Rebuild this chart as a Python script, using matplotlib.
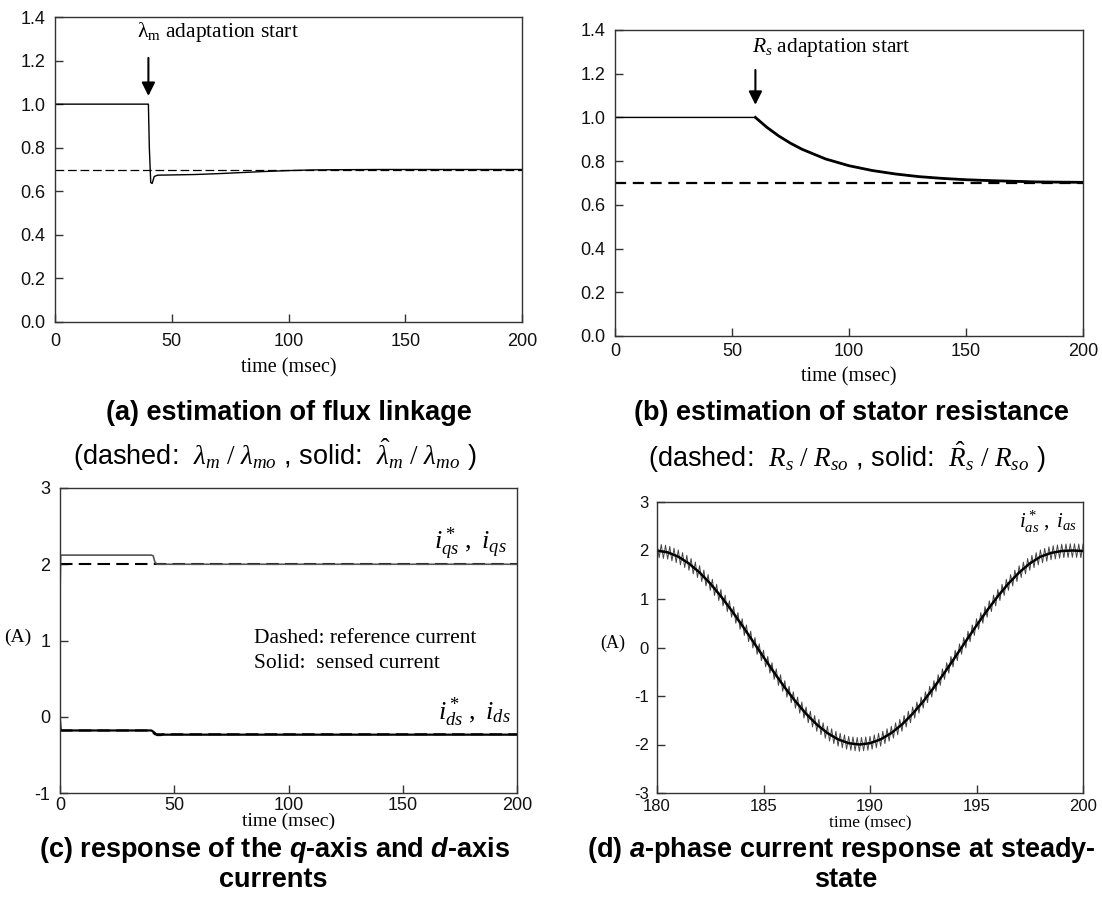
import numpy as np
import matplotlib
matplotlib.use('Agg')
import matplotlib.pyplot as plt

plt.rcParams['font.family'] = ['Liberation Sans', 'DejaVu Sans']
plt.rcParams['axes.unicode_minus'] = False
plt.rcParams['mathtext.fontset'] = 'custom'
plt.rcParams['mathtext.rm'] = 'Liberation Serif'
plt.rcParams['mathtext.it'] = 'Liberation Serif:italic'
plt.rcParams['mathtext.bf'] = 'Liberation Serif:bold'
try:
    plt.rcParams['mathtext.bfit'] = 'Liberation Sans:italic:bold'
except KeyError:
    pass

# ---------------- data ----------------
# (a) flux linkage estimation
a_time = [0, 40, 40.4, 41.0, 41.6, 42.5, 44, 50, 60, 70, 80, 90, 100, 110, 120, 140, 200]
a_est = [1.0, 1.0, 0.80, 0.640, 0.636, 0.668, 0.674, 0.675, 0.677, 0.681, 0.686,
         0.691, 0.695, 0.698, 0.699, 0.700, 0.700]
a_true_time = [0, 200]
a_true = [0.70, 0.70]

# (b) stator resistance estimation
b_time = [0, 60, 65, 70, 75, 80, 90, 100, 110, 120, 130, 140, 150, 160, 170, 180, 190, 200]
b_est = [1.0, 1.0, 0.954, 0.915, 0.882, 0.854, 0.810, 0.779, 0.757, 0.741, 0.729,
         0.721, 0.715, 0.711, 0.708, 0.705, 0.704, 0.703]
b_true_time = [0, 200]
b_true = [0.70, 0.70]

# (c) q- and d-axis currents
q_ref_time = [0, 200]
q_ref = [2.0, 2.0]
q_sen_time = [0, 0.3, 40, 40.8, 41.5, 42.5, 200]
q_sen = [1.6, 2.12, 2.12, 2.11, 2.03, 2.0, 2.0]
d_ref_time = [0, 40, 41.5, 200]
d_ref = [-0.18, -0.18, -0.23, -0.23]
d_sen_time = [0, 0.3, 40, 41, 42.5, 44, 45, 200]
d_sen = [-0.05, -0.18, -0.18, -0.20, -0.24, -0.24, -0.235, -0.235]

# (d) a-phase current at steady state (reference, every 0.5 ms from 180 ms)
d_time = np.linspace(180, 200, 41)
ias_ref = [1.999, 1.962, 1.872, 1.732, 1.546, 1.319, 1.056, 0.765, 0.454, 0.131,
           -0.196, -0.518, -0.825, -1.111, -1.367, -1.587, -1.764, -1.894, -1.973, -2.0,
           -1.973, -1.894, -1.764, -1.587, -1.367, -1.111, -0.825, -0.518, -0.196, 0.131,
           0.454, 0.765, 1.056, 1.319, 1.546, 1.732, 1.872, 1.950, 1.990, 2.000, 1.990]
ripple_period_ms = 0.2      # PWM switching ripple period
ripple_amp = 0.14           # ripple half amplitude (A)

# ---------------- figure ----------------
W, H = 1102, 915
fig = plt.figure(figsize=(W / 100, H / 100), dpi=100)


def axpix(left, top, right, bottom):
    return fig.add_axes([left / W, 1 - bottom / H, (right - left) / W, (bottom - top) / H])


def ftext(x, y, s, **kw):
    fig.text(x / W, 1 - y / H, s, **kw)


def style(ax, labelsize=13, pad=7):
    for s in ax.spines.values():
        s.set_color('#333333')
        s.set_linewidth(1.0)
    ax.tick_params(direction='in', length=6, width=1, color='#333333',
                   labelsize=labelsize, pad=pad, top=False, right=False,
                   labelcolor='#111111')


serif = 'Liberation Serif'

# (a)
ax = axpix(55, 17, 522, 322)
ax.plot(a_true_time, a_true, color='black', lw=0.9, dashes=(7, 3))
ax.plot(a_time, a_est, color='black', lw=1.0)
ax.set_xlim(0, 200)
ax.set_ylim(0, 1.4)
ax.set_xticks([0, 50, 100, 150, 200])
ax.set_yticks(np.arange(0, 1.41, 0.2))
ax.set_yticklabels(['%.1f' % v for v in np.arange(0, 1.41, 0.2)])
style(ax)
ax.tick_params(axis='x', pad=8)
ax.set_xlabel('time (msec)', family=serif, fontsize=14.5, labelpad=6)
ax.annotate('', xy=(40, 1.025), xytext=(40, 1.225),
            arrowprops=dict(arrowstyle='-|>', mutation_scale=20, lw=1.5, color='black'))
ax.text(35, 1.33, r'$\mathrm{\lambda}_\mathrm{m}$ adaptation start', family=serif,
        fontsize=15.5, va='center', ha='left')

# (b)
ax = axpix(615, 30, 1083, 336)
ax.plot(b_true_time, b_true, color='black', lw=1.6, dashes=(5, 3))
ax.plot(b_time, b_est, color='black', lw=1.0)
ax.plot(b_time[1:], b_est[1:], color='black', lw=2.0)
ax.set_xlim(0, 200)
ax.set_ylim(0, 1.4)
ax.set_xticks([0, 50, 100, 150, 200])
ax.set_yticks(np.arange(0, 1.41, 0.2))
ax.set_yticklabels(['%.1f' % v for v in np.arange(0, 1.41, 0.2)])
style(ax)
ax.tick_params(axis='x', pad=5)
ax.set_xlabel('time (msec)', family=serif, fontsize=14.5, labelpad=5)
ax.annotate('', xy=(60, 1.045), xytext=(60, 1.23),
            arrowprops=dict(arrowstyle='-|>', mutation_scale=20, lw=1.5, color='black'))
ax.text(58.5, 1.32, r'$R_s$ adaptation start', family=serif,
        fontsize=15.5, va='center', ha='left')

# (c)
ax = axpix(60, 488, 517, 793)
ax.plot(q_ref_time, q_ref, color='black', lw=1.5, dashes=(6, 3))
ax.plot(q_sen_time, q_sen, color='#555555', lw=1.2)
ax.plot(d_ref_time, d_ref, color='black', lw=1.5, dashes=(6, 3))
ax.plot(d_sen_time, d_sen, color='black', lw=1.6)
ax.set_xlim(0, 200)
ax.set_ylim(-1, 3)
ax.set_xticks([0, 50, 100, 150, 200])
ax.set_yticks([-1, 0, 1, 2, 3])
style(ax)
ax.tick_params(axis='x', pad=3)
ax.set_xlabel('time (msec)', family=serif, fontsize=14, labelpad=-1)
ax.text(195.5, 2.27, r'$i^*_{qs}\ ,\ i_{qs}$', fontsize=19, ha='right', va='center')
ax.text(197.0, 0.06, r'$i^*_{ds}\ ,\ i_{ds}$', fontsize=19, ha='right', va='center')
ax.text(85, 1.03, 'Dashed: reference current', family=serif, fontsize=15.5, va='center')
ax.text(85, 0.70, 'Solid:  sensed current', family=serif, fontsize=15.5, va='center')
ftext(4, 637, '(A)', family=serif, fontsize=14, va='center', ha='left')

# (d)
ax = axpix(657, 502, 1083, 793)
ts = np.arange(180, 200 + 1e-9, ripple_period_ms / 2)
base = np.interp(ts, d_time, ias_ref)
sign = np.where(np.arange(len(ts)) % 2 == 0, 1.0, -1.0)
ax.plot(ts, base + ripple_amp * sign, color='#444444', lw=0.7)
ax.plot(d_time, ias_ref, color='black', lw=1.8)
ax.set_xlim(180, 200)
ax.set_ylim(-3, 3)
ax.set_xticks([180, 185, 190, 195, 200])
ax.set_yticks([-3, -2, -1, 0, 1, 2, 3])
style(ax, labelsize=12, pad=6)
ax.tick_params(axis='x', pad=4)
ax.set_xlabel('time (msec)', family=serif, fontsize=12.5, labelpad=1)
ax.text(199.7, 2.58, r'$i^*_{as}\ ,\ i_{as}$', fontsize=15, ha='right', va='center')
ftext(600, 643, '(A)', family=serif, fontsize=13, va='center', ha='left')

# captions
cap = dict(fontsize=19.5, fontweight='bold', ha='center', va='center')
ftext(289, 413, '(a) estimation of flux linkage', **cap)
ftext(851, 413, '(b) estimation of stator resistance', **cap)
ftext(275, 455, r'(dashed:  $\lambda_m\ /\ \lambda_{mo}$ , solid:  $\hat{\lambda}_m\ /\ \lambda_{mo}$ )',
      fontsize=19.5, ha='center', va='center')
ftext(847, 457, r'(dashed:  $R_s\ /\ R_{so}$ , solid:  $\hat{R}_s\ /\ R_{so}$ )',
      fontsize=19.5, ha='center', va='center')
ftext(275, 850, r'(c) response of the $\mathbfit{q}$-axis and $\mathbfit{d}$-axis', **cap)
ftext(273, 880, 'currents', **cap)
ftext(841, 850, r'(d) $\mathbfit{a}$-phase current response at steady-', **cap)
ftext(846, 880, 'state', **cap)

fig.savefig('out.png', dpi=100)
